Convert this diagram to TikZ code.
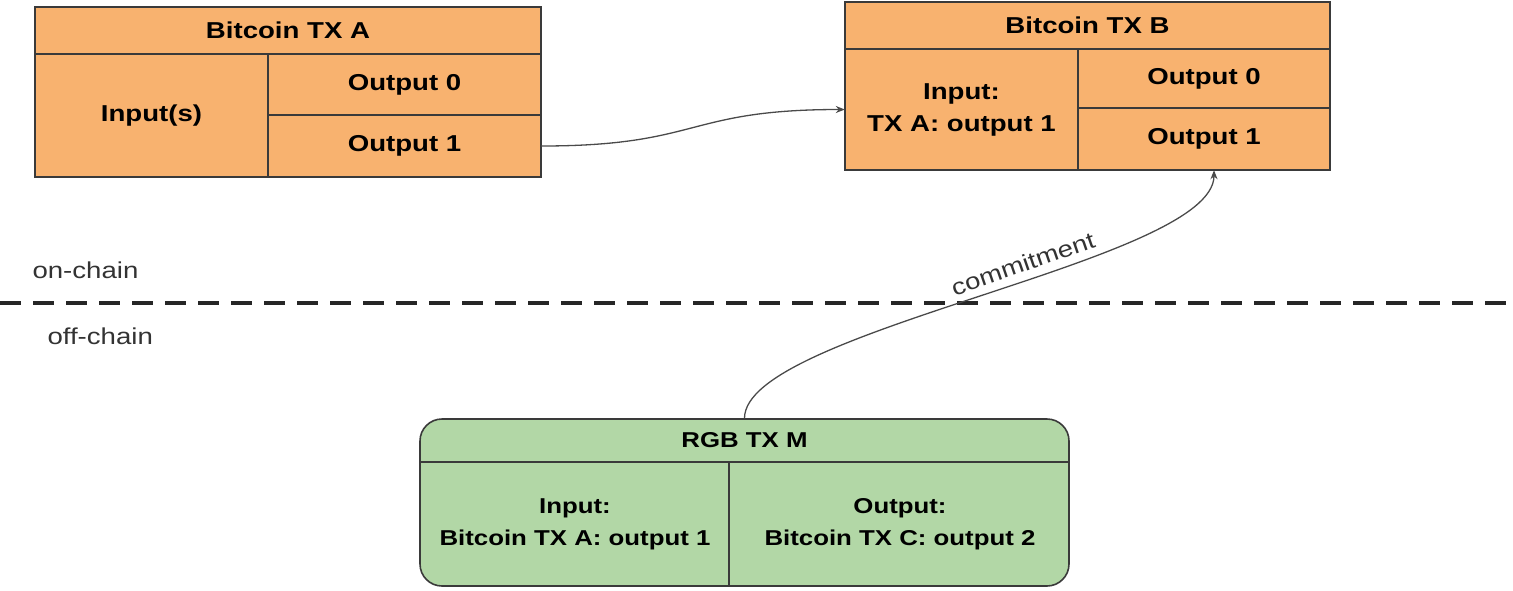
\documentclass[tikz,border=0pt]{standalone}
\usepackage{fontspec}
\setmainfont{Liberation Sans}[FakeStretch=1.2]
\usetikzlibrary{arrows.meta,calc}
\definecolor{txorange}{HTML}{F8B26F}
\definecolor{rgbgreen}{HTML}{B2D7A6}
\definecolor{edge}{HTML}{3A3A3A}
\definecolor{wire}{HTML}{4A4A4A}
\tikzset{
  box/.style={draw=edge, line width=1.6pt, inner sep=0pt, anchor=center},
  cell/.style={inner sep=0pt, anchor=center, align=center, font=\fontsize{23}{32}\selectfont\bfseries},
  rgbcell/.style={cell, font=\fontsize{21.5}{32}\selectfont\bfseries},
  divider/.style={draw=edge, line width=1.6pt},
  conn/.style={draw=wire, line width=1.3pt, -{Stealth[length=9pt,width=7pt]}},
  lbl/.style={font=\fontsize{23}{28}\selectfont, text=black!80},
}
\begin{document}
\begin{tikzpicture}[x=1pt,y=-1pt]
\useasboundingbox (0,0) rectangle (1513,590);
% ---------- Bitcoin TX A ----------
\node[box, fill=txorange, minimum width=506pt, minimum height=170pt] (A) at (288,92) {};
\node[cell, minimum width=506pt, minimum height=47pt] (Ahead) at (288,30.5) {Bitcoin TX A};
\node[cell, minimum width=233pt, minimum height=123pt] (Ain) at (151.5,115.5) {Input(s)};
\node[cell, minimum width=273pt, minimum height=61pt] (Aout0) at (404.5,84.5) {Output 0};
\node[cell, minimum width=273pt, minimum height=62pt] (Aout1) at (404.5,146) {Output 1};
\draw[divider] (35,54) -- (541,54);
\draw[divider] (268,54) -- (268,177);
\draw[divider] (268,115) -- (541,115);
% ---------- Bitcoin TX B ----------
\node[box, fill=txorange, minimum width=485pt, minimum height=168pt] (B) at (1087.5,86) {};
\node[cell, minimum width=485pt, minimum height=47pt] (Bhead) at (1087.5,25.5) {Bitcoin TX B};
\node[cell, minimum width=233pt, minimum height=121pt] (Bin) at (961.5,109.5) {Input:\\TX A: output 1};
\node[cell, minimum width=252pt, minimum height=59pt] (Bout0) at (1204,78.5) {Output 0};
\node[cell, minimum width=252pt, minimum height=62pt] (Bout1) at (1204,139) {Output 1};
\draw[divider] (845,49) -- (1330,49);
\draw[divider] (1078,49) -- (1078,170);
\draw[divider] (1078,108) -- (1330,108);
% ---------- RGB TX M ----------
\node[box, fill=rgbgreen, rounded corners=22pt, minimum width=649pt, minimum height=167pt] (M) at (744.5,502.5) {};
\node[rgbcell, minimum width=649pt, minimum height=43pt] (Mhead) at (744.5,440.5) {RGB TX M};
\node[rgbcell, minimum width=309pt, minimum height=124pt] (Min) at (575,524) {Input:\\Bitcoin TX A: output 1};
\node[rgbcell, minimum width=340pt, minimum height=124pt] (Mout) at (900,524) {Output:\\Bitcoin TX C: output 2};
\draw[divider] (420,462) -- (1069,462);
\draw[divider] (729,462) -- (729,586);
% ---------- chain separator ----------
\coordinate (sepL) at (0,303);
\coordinate (sepR) at (1513,303);
\draw[line width=4pt, black!85, dash pattern=on 21pt off 12pt] (sepL) -- (sepR);
\node[lbl, anchor=west] (onchain) at (29,270) {on-chain};
\node[lbl, anchor=west] (offchain) at (44,336) {off-chain};
% ---------- connectors ----------
\draw[conn] (Aout1.east) .. controls +(160,0) and +(-160,0) .. (Bin.west);
\draw[conn] (M.north) .. controls (744.5,330) and (1214,262) .. ([xshift=10pt]Bout1.south)
  node[lbl, pos=0.57, sloped, above, inner sep=7pt] (commit) {commitment};
\end{tikzpicture}
\end{document}
